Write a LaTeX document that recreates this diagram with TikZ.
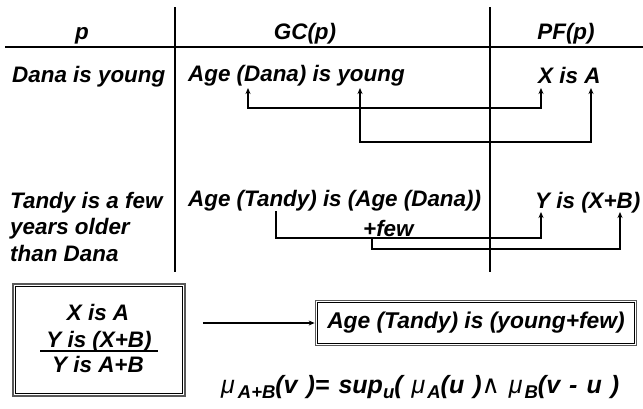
\documentclass[tikz,border=0pt]{standalone}
\usepackage{fontspec}
\setmainfont{Liberation Sans}
\newfontfamily\symfont{DejaVu Sans}
\usetikzlibrary{arrows.meta}
\newcommand{\subtx}[1]{\raisebox{-5pt}{\fontsize{18.5}{18.5}\selectfont #1}}

\begin{document}
\begin{tikzpicture}[x=1pt,y=-1pt,
  lbl/.style={inner sep=0pt, anchor=base west,
    font=\fontsize{22.4}{26}\selectfont\bfseries\itshape},
  hdr/.style={lbl, anchor=base},
  rule/.style={line width=1.4pt},
  tip/.tip={Stealth[length=6pt,width=5pt]},
  link/.style={line width=1.3pt, -tip},
  both/.style={line width=1.3pt, tip-tip},
  framebox/.style={draw=black!65, line width=1.8pt, inner sep=0pt,
    font=\fontsize{22.8}{26}\selectfont\bfseries\itshape},
  innerframe/.style={draw=black, line width=0.9pt}
]
\useasboundingbox (0,0) rectangle (643,408);

% table rules
\draw[rule] (5,47) -- (643,47);
\draw[rule] (175,7) -- (175,272);
\draw[rule] (490,7) -- (490,272);

% column headers
\node[hdr] (hp)  at (82,39)  {p};
\node[hdr] (hgc) at (305,39) {GC(p)};
\node[hdr] (hpf) at (566,39) {PF(p)};

% first proposition
\node[lbl] (p1)  at (12,82)  {Dana is young};
\node[lbl] (gc1) at (188,81) {Age (Dana) is young};
\node[lbl] (pf1) at (538,83) {X is A};

% second proposition
\node[lbl] (p2a) at (10,208)   {Tandy is a few};
\node[lbl] (p2b) at (10,234.5) {years older};
\node[lbl] (p2c) at (10,261)   {than Dana};
\node[lbl] (gc2) at (188,206)  {Age (Tandy) is (Age (Dana))};
\node[lbl] (gc2b) at (363,236) {+few};
\node[lbl] (pf2) at (535,208)  {Y is (X+B)};

% attachment points under the words
\coordinate (aD)  at (248,88);
\coordinate (aY)  at (360,88);
\coordinate (aX)  at (541,88);
\coordinate (aA)  at (591,88);
\coordinate (aT)  at (276,211);
\coordinate (aF)  at (372,239);
\coordinate (aYY) at (541,212);
\coordinate (aB)  at (620,212);

\draw[both] (aD) -- ++(0,20) -| (aX);
\draw[both] (aY) -- ++(0,54) -| (aA);
\draw[link] (aT) -- ++(0,27) -| (aYY);
\draw[link] (aF) -- ++(0,10) -| (aB);

% inference rule box
\node[framebox, minimum width=172pt, minimum height=112pt] (lbox) at (99,340) {};
\draw[innerframe] ([shift={(3pt,-3pt)}]lbox.north west) rectangle ([shift={(-3pt,3pt)}]lbox.south east);
\node[hdr] (r1) at (98,320) {X is A};
\node[hdr] (r2) at (99,347) {Y is (X+B)};
\node[hdr] (r3) at (98,372) {Y is A+B};
\draw[line width=1.3pt] (40,351) -- (158,351);

% result box
\node[framebox, minimum width=321pt, minimum height=45pt] (rbox) at (476,323) {Age (Tandy) is (young+few)};
\draw[innerframe] ([shift={(2.5pt,-2.5pt)}]rbox.north west) rectangle ([shift={(-2.5pt,2.5pt)}]rbox.south east);
\draw[link, shorten <=17pt] (lbox.east |- rbox.west) -- (rbox.west);

% extension principle
\node[lbl, font=\fontsize{25}{29}\selectfont\bfseries\itshape] (ext) at (221,393)
  {\spaceskip=9pt{\mdseries μ}\hspace{3pt}\subtx{A+B}(v )= sup\subtx{u}( {\mdseries μ}\hspace{2pt}\subtx{A}(u ){\mdseries\symfont ∧} {\mdseries μ}\hspace{2pt}\subtx{B}(v - u )};
\end{tikzpicture}
\end{document}
